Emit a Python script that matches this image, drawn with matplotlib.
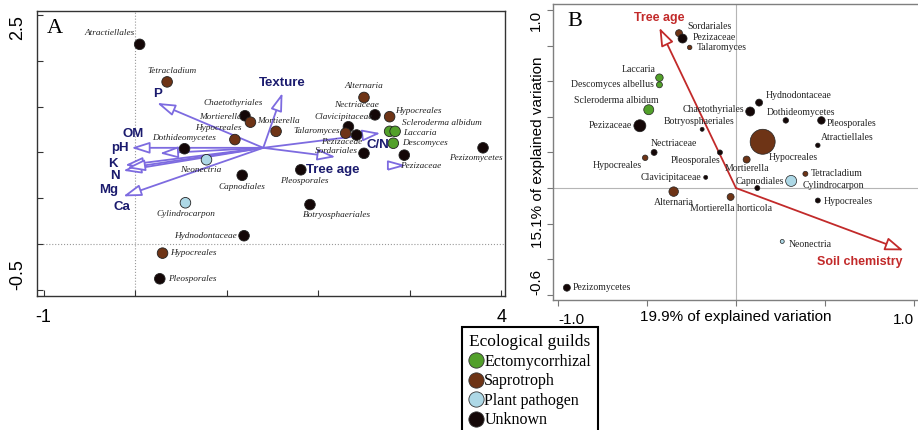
import numpy as np
import matplotlib.pyplot as plt
from matplotlib.lines import Line2D

plt.rcParams['font.family'] = ['Liberation Sans', 'DejaVu Sans']

# ================== 数据 ==================
guild_names = ['Ectomycorrhizal', 'Saprotroph', 'Plant pathogen', 'Unknown']
guild_colors = {'E': '#52a02a', 'S': '#6e3416', 'P': '#add8e6', 'U': '#140707'}

# Panel A: taxa
a_taxa = ['Atractiellales', 'Tetracladium', 'Chaetothyriales', 'Mortierella', 'Mortierella',
          'Hypocreales', 'Dothideomycetes', 'Neonectria', 'Capnodiales', 'Cylindrocarpon',
          'Hydnodontaceae', 'Hypocreales', 'Pleosporales', 'Pleosporales', 'Botryosphaeriales',
          'Alternaria', 'Nectriaceae', 'Hypocreales', 'Clavicipitaceae', 'Talaromyces',
          'Pezizaceae', 'Laccaria', 'Scleroderma albidum', 'Descomyces', 'Sordariales',
          'Pezizaceae', 'Pezizomycetes']
a_guild = ['U', 'S', 'U', 'S', 'S', 'S', 'U', 'P', 'U', 'P', 'U', 'S', 'U', 'U', 'U',
           'S', 'U', 'S', 'U', 'S', 'U', 'E', 'E', 'E', 'U', 'U', 'U']
a_x = [0.05, 0.35, 1.20, 1.26, 1.54, 1.09, 0.54, 0.78, 1.17, 0.55, 1.19, 0.30, 0.27, 1.81, 1.91,
       2.50, 2.62, 2.78, 2.33, 2.30, 2.42, 2.78, 2.84, 2.82, 2.50, 2.94, 3.80]
a_y = [2.18, 1.77, 1.40, 1.33, 1.23, 1.14, 1.04, 0.92, 0.75, 0.45, 0.09, -0.10, -0.38, 0.81, 0.43,
       1.60, 1.41, 1.39, 1.28, 1.21, 1.19, 1.23, 1.23, 1.10, 0.99, 0.97, 1.05]

# Panel A: environmental arrows
a_env = ['Texture', 'P', 'OM', 'pH', 'K', 'N', 'Mg', 'Ca', 'Tree age', 'C/N']
a_env_x = [1.61, 0.24, 0.27, -0.04, -0.11, -0.13, -0.09, -0.13, 2.19, 2.68]
a_env_y = [1.65, 1.54, 0.99, 1.05, 0.86, 0.80, 0.83, 0.52, 0.95, 1.21]
a_origin = (1.40, 1.05)
a_supp_x, a_supp_y = 2.84, 0.86

# Panel B: taxa (abundance -> bubble size)
b_taxa = ['Sordariales', 'Pezizaceae', 'Talaromyces', 'Laccaria', 'Descomyces albellus',
          'Scleroderma albidum', 'Pezizaceae', 'Botryosphaeriales', 'Chaetothyriales',
          'Hydnodontaceae', 'Dothideomycetes', 'Pleosporales', 'Atractiellales', 'Hypocreales',
          'Mortierella', 'Capnodiales', 'Cylindrocarpon', 'Tetracladium', 'Hypocreales',
          'Mortierella horticola', 'Neonectria', 'Pleosporales', 'Clavicipitaceae',
          'Nectriaceae', 'Hypocreales', 'Alternaria', 'Pezizomycetes']
b_guild = ['S', 'U', 'S', 'E', 'E', 'E', 'U', 'U', 'U', 'U', 'U', 'U', 'U', 'S', 'S', 'U', 'P',
           'S', 'U', 'S', 'P', 'U', 'U', 'U', 'S', 'S', 'U']
b_x = [-0.32, -0.30, -0.26, -0.43, -0.43, -0.49, -0.54, -0.19, 0.08, 0.13, 0.28, 0.48, 0.46,
       0.15, 0.06, 0.12, 0.31, 0.39, 0.46, -0.03, 0.26, -0.09, -0.17, -0.46, -0.51, -0.35, -0.95]
b_y = [0.87, 0.84, 0.79, 0.62, 0.58, 0.44, 0.35, 0.33, 0.43, 0.48, 0.38, 0.38, 0.24, 0.26, 0.16,
       0.00, 0.04, 0.08, -0.07, -0.05, -0.30, 0.20, 0.06, 0.20, 0.17, -0.02, -0.56]
b_abund = [7, 9, 4.5, 7.5, 6, 10, 12, 4, 9, 7, 5.5, 7.5, 4.5, 25, 7, 5, 11, 5, 5, 7, 4, 5, 4,
           6, 5.5, 9.5, 7]

b_var = ['Tree age', 'Soil chemistry']
b_var_x = [-0.43, 0.94]
b_var_y = [0.90, -0.35]

# ================== 标签位置 (像素偏移) ==================
a_lab = [(-5, 11, 'right'), (5, 11, 'center'), (-12, 13, 'center'), (-9, 5, 'right'),
         (2, 10, 'center'), (-17, 12, 'center'), (0, 11, 'center'), (-6, -10, 'center'),
         (0, -12, 'center'), (0, -11, 'center'), (-7, 0, 'right'), (8, 0, 'left'),
         (8, 0, 'left'), (3, -11, 'center'), (-7, -10, 'left'), (0, 11, 'center'),
         (4, 10, 'right'), (5, 6, 'left'), (-5, 10, 'center'), (-6, 2, 'right'),
         (-15, -7, 'center'), (13, -2, 'left'), (7, 8, 'left'), (9, 0, 'left'),
         (-6, 2, 'right'), (-4, -11, 'left'), (-7, -10, 'center')]
a_env_lab = [(0, 10), (1, 9), (-27, 19), (-11, 0), (-12, 1), (-8, -5), (-18, -22), (-1, -11),
             (-3, -13), (-3, -12)]
b_lab = [(8, 7, 'left'), (10, 1, 'left'), (7, 0, 'left'), (-4, 8, 'right'), (-6, 0, 'right'),
         (-32, 9, 'center'), (-8, 0, 'right'), (-3, 8, 'center'), (-6, 2, 'right'),
         (7, 7, 'left'), (15, 8, 'center'), (5, -3, 'left'), (3, 8, 'left'), (6, -16, 'left'),
         (0, -9, 'center'), (3, 7, 'center'), (11, -5, 'left'), (5, 0, 'left'), (6, -1, 'left'),
         (0, -12, 'center'), (6, -3, 'left'), (0, -8, 'right'), (-4, 0, 'right'),
         (-3, 9, 'left'), (-3, -8, 'right'), (0, -11, 'center'), (6, 0, 'left')]
b_var_lab = [(0, 10), (-43, -12)]

purple = '#7d6be0'
navy = '#1b1b6e'
red = '#c22a2a'
serif = 'Liberation Serif'

fig = plt.figure(figsize=(9.18, 4.30), dpi=100)

# ================== Panel A ==================
axA = fig.add_axes([37 / 918, 1 - 296 / 430, 468 / 918, 285 / 430])
axA.set_xlim(-1.071, 4.04)
axA.set_ylim(-0.568, 2.544)
axA.axvline(0, color='#999999', lw=0.8, ls=':', zorder=1)
axA.axhline(0, color='#999999', lw=0.8, ls=':', zorder=1)

for lab, ex, ey, (dx, dy) in zip(a_env, a_env_x, a_env_y, a_env_lab):
    axA.annotate('', xy=(ex, ey), xytext=a_origin,
                 arrowprops=dict(arrowstyle='-|>,head_length=1.1,head_width=0.35',
                                 fc='white', ec=purple, lw=1.3, shrinkA=0, shrinkB=0,
                                 mutation_scale=10), zorder=2)
    axA.annotate(lab, (ex, ey), xytext=(dx, dy), textcoords='offset pixels',
                 ha='center', va='center', fontsize=9.5, fontweight='bold', color=navy, zorder=5)
tri = [(-1, -0.55), (1, 0), (-1, 0.55), (-1, -0.55)]
axA.plot(a_supp_x, a_supp_y, marker=tri, ms=11, mfc='white', mec=purple, mew=1.3, ls='', zorder=2)

axA.scatter(a_x, a_y, s=58, c=[guild_colors[g] for g in a_guild], edgecolors='#222222',
            linewidths=0.6, zorder=3)
for t, x, y, (dx, dy, ha) in zip(a_taxa, a_x, a_y, a_lab):
    axA.annotate(t, (x, y), xytext=(dx, dy), textcoords='offset pixels', ha=ha, va='center',
                 fontsize=6.7, fontstyle='italic', family=serif, color='#222222', zorder=4)

axA.set_xticks([-1, 0, 1, 2, 3, 4])
axA.set_xticklabels(['-1', '', '', '', '', '4'])
axA.set_yticks([-0.5, 0, 0.5, 1.0, 1.5, 2.0, 2.5])
axA.set_yticklabels(['-0.5', '', '', '', '', '', '2.5'], rotation=90)
axA.tick_params(direction='in', length=4, width=0.8, labelsize=13, color='#333333')
axA.tick_params(axis='x', pad=9)
axA.tick_params(axis='y', pad=8)
ylabs = axA.get_yticklabels()
ylabs[0].set_va('bottom')
ylabs[-1].set_va('top')
for s in axA.spines.values():
    s.set_color('#333333')
    s.set_linewidth(1.0)
axA.text(0.02, 0.94, 'A', transform=axA.transAxes, fontsize=16, family=serif, va='center')

# ================== Panel B ==================
axB = fig.add_axes([553 / 918, 1 - 300 / 430, 367 / 918, 296 / 430])
axB.set_xlim(-1.028, 1.034)
axB.set_ylim(-0.629, 1.034)
axB.axhline(0, color='#b5b5b5', lw=0.8, zorder=1)
axB.axvline(0, color='#b5b5b5', lw=0.8, zorder=1)

for lab, vx, vy, (dx, dy) in zip(b_var, b_var_x, b_var_y, b_var_lab):
    axB.annotate('', xy=(vx, vy), xytext=(0, 0),
                 arrowprops=dict(arrowstyle='-|>,head_length=1.1,head_width=0.4',
                                 fc='white', ec=red, lw=1.3, shrinkA=0, shrinkB=0,
                                 mutation_scale=10), zorder=2)
    axB.annotate(lab, (vx, vy), xytext=(dx, dy), textcoords='offset pixels',
                 ha='center', va='center', fontsize=9, fontweight='bold', color=red, zorder=5)

sizes = [(a * 0.72) ** 2 for a in b_abund]
axB.scatter(b_x, b_y, s=sizes, c=[guild_colors[g] for g in b_guild], edgecolors='#222222',
            linewidths=0.5, zorder=3)
for t, x, y, (dx, dy, ha) in zip(b_taxa, b_x, b_y, b_lab):
    axB.annotate(t, (x, y), xytext=(dx, dy), textcoords='offset pixels', ha=ha, va='center',
                 fontsize=7, family=serif, color='#222222', zorder=4)

axB.set_xticks([-1.0, -0.5, 0, 0.5, 1.0])
axB.set_xticklabels(['-1.0', '', '', '', '1.0'])
axB.set_yticks([-0.6, -0.4, -0.2, 0, 0.2, 0.4, 0.6, 0.8, 1.0])
axB.set_yticklabels(['-0.6', '', '', '', '', '', '', '', '1.0'], rotation=90)
axB.tick_params(direction='out', length=4, width=0.8, labelsize=11, color='#777777', pad=3)
axB.tick_params(axis='x', pad=5)
bl = axB.get_yticklabels()
bl[0].set_va('bottom')
bl[-1].set_va('top')
bx = axB.get_xticklabels()
bx[0].set_ha('left')
bx[-1].set_ha('right')
axB.set_xlabel('19.9% of explained variation', fontsize=11)
axB.xaxis.set_label_coords(0.4986, -0.033)
axB.set_ylabel('15.1% of explained variation', fontsize=11)
axB.yaxis.set_label_coords(-0.022, 0.5)
for s in axB.spines.values():
    s.set_color('#7f7f7f')
    s.set_linewidth(1.0)
axB.spines['right'].set_visible(False)
axB.text(0.04, 0.94, 'B', transform=axB.transAxes, fontsize=16, family=serif, va='center')

# ================== 图例 ==================
handles = [Line2D([], [], marker='o', ls='', ms=11, mfc=guild_colors[k], mec='#333333', mew=0.6)
           for k in ['E', 'S', 'P', 'U']]
leg = fig.legend(handles, guild_names, title='Ecological guilds', loc='upper left',
                 bbox_to_anchor=(462 / 918, 1 - 327 / 430), frameon=True, fancybox=False,
                 edgecolor='black', prop={'family': serif, 'size': 11.5},
                 title_fontproperties={'family': serif, 'size': 12.5}, alignment='left',
                 handlelength=0.8, handletextpad=0.15, labelspacing=0.22, borderpad=0.45,
                 borderaxespad=0, framealpha=1)
leg.get_frame().set_linewidth(1.5)

fig.savefig('out.png', dpi=100)
